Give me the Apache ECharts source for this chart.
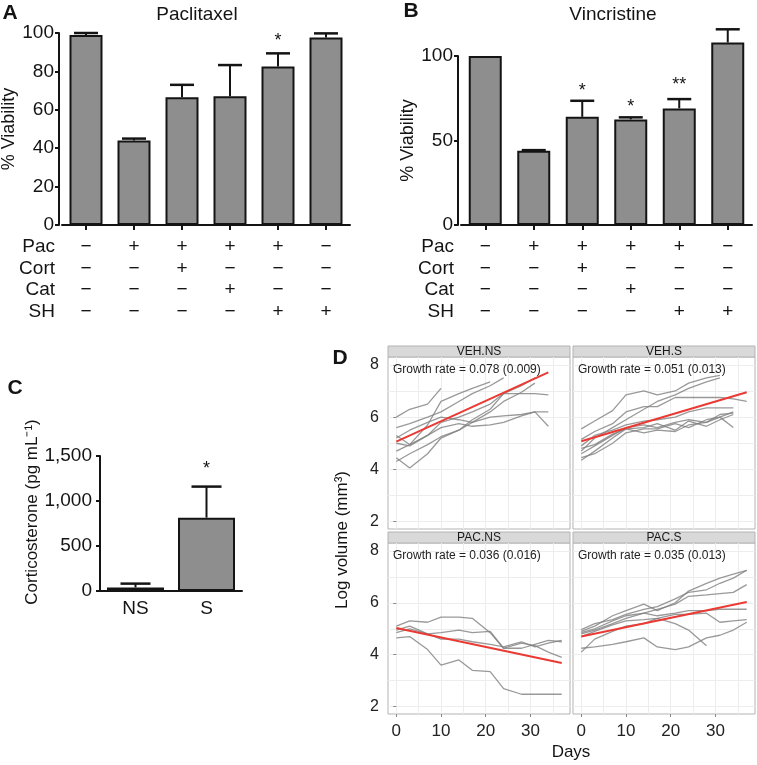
<!DOCTYPE html>
<html><head><meta charset="utf-8">
<script src="https://cdn.jsdelivr.net/npm/echarts@6/dist/echarts.min.js"></script>
<style>html,body{margin:0;padding:0;background:#fff}#c{width:757px;height:765px}</style>
</head><body><div id="c"></div>
<script>
// ---------- Panels A / B ----------
const groups = ['g1', 'g2', 'g3', 'g4', 'g5', 'g6'];
const rowNames = ['Pac', 'Cort', 'Cat', 'SH'];
const rowPac  = ['−', '+', '+', '+', '+', '−'];
const rowCort = ['−', '−', '+', '−', '−', '−'];
const rowCat  = ['−', '−', '−', '+', '−', '−'];
const rowSH   = ['−', '−', '−', '−', '+', '+'];
const rowSigns = [rowPac, rowCort, rowCat, rowSH];

const paclitaxelMean  = [99, 44, 66.5, 67, 82.5, 97.7];
const paclitaxelUpper = [100, 45, 73, 83.3, 89.4, 99.8];
const paclitaxelStars = ['', '', '', '', '*', ''];

const vincristineMean  = [100, 44, 64, 62.5, 69, 108];
const vincristineUpper = [100, 44.3, 73.5, 63.7, 74.5, 115.8];
const vincristineStars = ['', '', '*', '*', '**', ''];

// ---------- Panel C ----------
const cortGroups = ['NS', 'S'];
const cortMean  = [40, 815];
const cortUpper = [82, 1160];
const cortStars = ['', '*'];

// ---------- Panel D ----------
const facetNames = ['VEH.NS', 'VEH.S', 'PAC.NS', 'PAC.S'];
const growthRate = ['0.078', '0.051', '0.036', '0.035'];
const growthSE   = ['0.009', '0.013', '0.016', '0.013'];
const dayTicks = [0, 10, 20, 30];
const dayGrid = [0, 5, 10, 15, 20, 25, 30, 35];
const logTicks = [2, 4, 6, 8];
const logGrid = [2, 3, 4, 5, 6, 7, 8];

const vehNsLines = [
  [[0,6.0],[3,6.3],[7,6.5],[10,7.1]],
  [[0,5.3],[3,4.95],[7,5.7],[10,6.6],[14,6.9],[17,7.1],[21,7.35]],
  [[0,5.6],[3,5.75],[7,6.0],[10,6.2],[14,6.6],[17,6.9],[21,7.2],[24,7.5]],
  [[0,5.0],[3,4.9],[7,5.3],[10,5.8],[14,6.0],[17,6.2],[21,6.5],[24,6.9],[28,6.9],[31,6.9],[34,6.85]],
  [[0,5.2],[3,5.5],[7,5.8],[10,6.0],[14,5.9],[17,5.8],[21,6.0],[24,6.05],[28,6.1],[31,6.2],[34,6.2]],
  [[0,4.7],[3,4.95],[7,5.3],[10,5.6],[14,5.75],[17,5.65],[21,5.7],[24,5.8],[28,6.05],[31,6.2],[34,5.65]],
  [[0,4.45],[3,4.05],[7,4.6],[10,5.2],[14,5.5],[17,5.9],[21,6.3],[24,6.9],[28,7.2],[31,7.5]],
  [[0,4.3],[3,4.6],[7,4.95],[10,5.25],[14,5.5],[17,5.8],[21,6.2],[24,6.6],[28,6.95],[31,7.3]]
];
const vehSLines = [
  [[0,5.55],[3,5.85],[7,6.25],[10,6.85],[14,7.0],[17,6.85],[21,7.0],[24,7.3],[28,7.5],[31,7.6]],
  [[0,4.7],[3,5.2],[7,5.6],[10,5.9],[14,6.3],[17,6.6],[21,6.85],[24,7.1],[28,7.35],[31,7.5]],
  [[0,5.15],[3,5.45],[7,5.75],[10,6.2],[14,6.4],[17,6.4],[21,6.75],[24,6.75],[28,6.75],[31,6.75],[34,6.7],[37,6.6]],
  [[0,4.9],[3,5.3],[7,5.5],[10,5.7],[14,5.85],[17,5.9],[21,6.0],[24,6.2],[28,6.35],[31,6.35],[34,6.35]],
  [[0,4.6],[3,4.9],[7,5.3],[10,5.6],[14,5.7],[17,5.6],[21,5.8],[24,5.9],[28,5.8],[31,6.0],[34,6.2]],
  [[0,4.35],[3,4.7],[7,5.2],[10,5.55],[14,5.6],[17,5.75],[21,5.5],[24,5.85],[28,5.65],[31,5.9],[34,6.1]],
  [[0,4.45],[3,4.6],[7,5.0],[10,5.4],[14,5.55],[17,5.55],[21,5.75],[24,5.6],[28,5.9],[31,6.0],[34,5.6]],
  [[0,4.8],[3,4.95],[7,5.35],[10,5.55],[14,5.4],[17,5.5],[21,5.45],[24,5.7],[28,5.8],[31,6.1],[34,6.15]]
];
const pacNsLines = [
  [[0,5.1],[3,5.3],[7,5.25],[10,5.45],[14,5.45],[17,5.4],[21,4.85],[24,4.25],[28,4.45],[31,4.35],[34,4.1],[37,3.9]],
  [[0,4.95],[3,5.1],[7,4.8],[10,4.85],[14,4.95],[17,4.85],[21,4.9],[24,4.25],[28,4.25],[31,4.4],[34,4.55],[37,4.5]],
  [[0,4.85],[3,5.0],[7,4.8],[10,4.6],[14,4.6],[17,4.5],[21,4.4],[24,4.3],[28,4.5],[31,4.3],[34,4.45],[37,4.55]],
  [[0,4.65],[3,4.7],[7,4.2],[10,3.6],[14,3.8],[17,3.4],[21,3.35],[24,2.7],[28,2.48],[31,2.48],[34,2.48],[37,2.48]]
];
const pacSLines = [
  [[0,4.9],[3,5.1],[7,5.5],[10,5.7],[14,5.95],[17,5.7],[21,6.0],[24,6.45],[28,6.75],[31,6.95],[34,7.1],[37,7.25]],
  [[0,4.97],[3,5.2],[7,5.35],[10,5.55],[14,5.75],[17,5.85],[21,6.15],[24,6.4],[28,6.5],[31,6.75],[34,6.95],[37,7.25]],
  [[0,4.85],[3,5.0],[7,5.3],[10,5.5],[14,5.6],[17,5.75],[21,5.95],[24,6.25],[28,6.3],[31,6.35],[34,6.4],[37,6.7]],
  [[0,4.8],[3,4.95],[7,5.2],[10,5.4],[14,5.6],[17,5.5],[21,5.6],[24,5.7],[28,5.7],[31,5.75],[34,5.75],[37,5.75]],
  [[0,4.7],[3,4.9],[7,5.15],[10,5.3],[14,5.35],[17,5.4],[21,5.55],[24,5.55],[28,5.6],[31,5.25],[34,5.3],[37,5.35]],
  [[0,4.1],[3,4.6],[7,4.9],[10,5.1],[14,5.2],[17,5.4],[21,5.2],[24,4.95],[28,4.35]],
  [[0,4.25],[3,4.3],[7,4.4],[10,4.5],[14,4.65],[17,4.3],[21,4.2],[24,4.3],[28,4.65],[31,4.75],[34,4.95],[37,5.25]]
];
const fitVehNs = [[0, 5.06], [34, 7.71]];
const fitVehS  = [[0, 5.08], [37, 6.95]];
const fitPacNs = [[0, 5.03], [37, 3.68]];
const fitPacS  = [[0, 4.70], [37, 6.03]];

// ---------- styling / layout ----------
const FONT = "'Liberation Sans', Arial, Helvetica, sans-serif";
const INK = '#141414';
const BAR_FILL = '#8e8e8e';
const rowOffsets = [21.7, 43.3, 65, 86.7];
const dayRange = [-1.85, 38.85];
const logRange = [1.72, 8.3];

const dGrids = [
  {left: 388, top: 357, width: 182, height: 172},
  {left: 573, top: 357, width: 182, height: 172},
  {left: 388, top: 543, width: 182, height: 171},
  {left: 573, top: 543, width: 182, height: 171}
];

const grids = [
  {left: 62, top: 33, width: 288, height: 192},
  {left: 461, top: 56, width: 291, height: 169},
  {left: 100, top: 456, width: 142, height: 135}
].concat(dGrids.map(g => Object.assign({show: true, borderColor: '#b3b3b3', borderWidth: 1, backgroundColor: 'transparent'}, g)))
 .map(g => Object.assign({outerBoundsMode: 'none', containLabel: false}, g));

function rowAxes(gridIndex) {
  return rowNames.map((name, r) => ({
    type: 'category', gridIndex, data: rowSigns[r], position: 'bottom', offset: rowOffsets[r],
    axisLine: {show: false, onZero: false}, axisTick: {show: false},
    axisLabel: {interval: 0, margin: 0, verticalAlign: 'middle', fontSize: 19, color: INK},
    name, nameLocation: 'start', nameGap: 7, nameTextStyle: {fontSize: 19, color: INK}
  }));
}
function mainCatAxis(gridIndex) {
  return {
    type: 'category', gridIndex, data: groups,
    axisLine: {show: true, lineStyle: {color: INK, width: 2}},
    axisTick: {show: true, alignWithLabel: true, length: 5, lineStyle: {color: INK, width: 2}},
    axisLabel: {show: false}
  };
}
function barValueAxis(gridIndex, max, interval, name, nameGap) {
  return {
    type: 'value', gridIndex, min: 0, max, interval, offset: 3,
    axisLine: {show: true, lineStyle: {color: INK, width: 2}},
    axisTick: {show: true, length: 4, lineStyle: {color: INK, width: 2}},
    axisLabel: {fontSize: 19, color: INK, margin: 5},
    splitLine: {show: false},
    name, nameLocation: 'middle', nameGap, nameTextStyle: {fontSize: 18, color: INK}
  };
}
function dAxisX(gridIndex, showLabels) {
  return [{
    type: 'value', gridIndex, min: dayRange[0], max: dayRange[1],
    axisLine: {show: false},
    axisTick: {show: showLabels, customValues: dayTicks, length: 3, lineStyle: {color: '#888'}},
    axisLabel: {show: showLabels, customValues: dayTicks, fontSize: 17, color: '#222', margin: 9},
    splitLine: {show: false}
  }, {
    type: 'value', gridIndex, min: dayRange[0], max: dayRange[1],
    axisLine: {show: false},
    axisTick: {show: false, customValues: dayGrid},
    axisLabel: {show: false},
    splitLine: {show: true, lineStyle: {color: '#ededed', width: 1}}
  }];
}
function dAxisY(gridIndex, showLabels) {
  return [{
    type: 'value', gridIndex, min: logRange[0], max: logRange[1],
    axisLine: {show: false},
    axisTick: {show: showLabels, customValues: logTicks, length: 3, lineStyle: {color: '#888'}},
    axisLabel: {show: showLabels, customValues: logTicks, fontSize: 16, color: '#222', margin: 9},
    splitLine: {show: false}
  }, {
    type: 'value', gridIndex, min: logRange[0], max: logRange[1],
    axisLine: {show: false},
    axisTick: {show: false, customValues: logGrid},
    axisLabel: {show: false},
    splitLine: {show: true, lineStyle: {color: '#ededed', width: 1}}
  }];
}

// x axes: 0 A main, 1-4 A rows, 5 B main, 6-9 B rows, 10 C, 11.. D (main, helper) x4
const xAxes = [mainCatAxis(0)].concat(rowAxes(0), [mainCatAxis(1)], rowAxes(1), [{
  type: 'category', gridIndex: 2, data: cortGroups,
  axisLine: {show: true, lineStyle: {color: INK, width: 2}},
  axisTick: {show: false},
  axisLabel: {fontSize: 19, color: INK, margin: 8}
}], dAxisX(3, false), dAxisX(4, false), dAxisX(5, true), dAxisX(6, true));

// y axes: 0 A, 1 B, 2 C, 3.. D (main, helper) x4
const cAxis = barValueAxis(2, 1500, 500, '', 0);
cAxis.axisLabel = {fontSize: 19, color: INK, margin: 8, formatter: v => v.toLocaleString('en-US')};
cAxis.offset = 0;
const yAxes = [
  barValueAxis(0, 100, 20, '% Viability', 35),
  barValueAxis(1, 100, 50, '% Viability', 31),
  cAxis
].concat(dAxisY(3, true), dAxisY(4, false), dAxisY(5, true), dAxisY(6, false));

function barSeries(xi, yi, data, width) {
  return {
    type: 'bar', xAxisIndex: xi, yAxisIndex: yi, data, barWidth: width, clip: false, silent: true,
    itemStyle: {color: BAR_FILL, borderColor: INK, borderWidth: 2}, z: 2
  };
}
function errorSeries(xi, yi, mean, upper, stars, cap, gap) {
  return {
    type: 'custom', xAxisIndex: xi, yAxisIndex: yi, clip: false, silent: true, z: 4,
    data: mean.map((m, i) => [i, m, upper[i]]),
    renderItem: (params, api) => {
      const i = api.value(0);
      const base = api.coord([i, api.value(1)]);
      const top = api.coord([i, api.value(2)]);
      const children = [];
      if (api.value(2) > api.value(1)) {
        children.push({type: 'line', shape: {x1: base[0], y1: base[1], x2: top[0], y2: top[1]}, style: {stroke: INK, lineWidth: 2}});
        children.push({type: 'line', shape: {x1: top[0] - cap, y1: top[1], x2: top[0] + cap, y2: top[1]}, style: {stroke: INK, lineWidth: 2.5}});
      }
      const s = stars[params.dataIndex];
      if (s) {
        const g = s.length > 1 ? gap + 4 : gap;
        children.push({type: 'text', x: top[0], y: top[1] - g,
          style: {text: s, align: 'center', verticalAlign: 'middle', fontSize: 18, fontFamily: FONT, fill: INK}});
      }
      return {type: 'group', children};
    }
  };
}
function lineSeries(xi, yi, data, color, width, z) {
  return {type: 'line', xAxisIndex: xi, yAxisIndex: yi, data, showSymbol: false, silent: true, z,
    lineStyle: {color, width}, emphasis: {disabled: true}};
}

const facetLines = [vehNsLines, vehSLines, pacNsLines, pacSLines];
const facetFits = [fitVehNs, fitVehS, fitPacNs, fitPacS];
const dSeries = [];
facetLines.forEach((lines, k) => {
  const xi = 11 + 2 * k, yi = 3 + 2 * k;
  lines.forEach(l => dSeries.push(lineSeries(xi, yi, l, 'rgba(128,128,128,0.8)', 1.3, 3)));
  dSeries.push(lineSeries(xi, yi, facetFits[k], '#ea3a33', 2, 5));
});

const graphic = [];
function txt(text, x, y, size, opts) {
  graphic.push(Object.assign({type: 'text', x, y, silent: true, z: 10,
    style: Object.assign({text, fontSize: size, fontFamily: FONT, fill: INK, align: 'center', verticalAlign: 'middle'}, opts || {})},
    opts && opts.rotation !== undefined ? {rotation: opts.rotation} : {}));
}
txt('A', 10, 13, 21, {fontWeight: 'bold'});
txt('B', 411, 11, 21, {fontWeight: 'bold'});
txt('C', 15, 388, 21, {fontWeight: 'bold'});
txt('D', 340, 358, 21, {fontWeight: 'bold'});
txt('Paclitaxel', 197, 15, 19);
txt('Vincristine', 613, 15, 19);
txt('Corticosterone (pg mL⁻¹)', 32, 512, 17, {rotation: Math.PI / 2});
txt('Log volume (mm³)', 342, 540, 17, {rotation: Math.PI / 2});
txt('Days', 571, 752, 17);
dGrids.forEach((g, k) => {
  graphic.push({type: 'rect', silent: true, shape: {x: g.left, y: g.top - 11, width: g.width, height: 11},
    style: {fill: '#d9d9d9', stroke: '#b3b3b3', lineWidth: 1}});
  txt(facetNames[k], g.left + g.width / 2, g.top - 5.5, 12, {fill: '#1a1a1a'});
  txt('Growth rate = ' + growthRate[k] + ' (' + growthSE[k] + ')', g.left + 5, g.top + 13, 12, {align: 'left', fill: '#222'});
});

const option = {
  animation: false,
  backgroundColor: '#ffffff',
  textStyle: {fontFamily: FONT},
  grid: grids,
  xAxis: xAxes,
  yAxis: yAxes,
  graphic,
  series: [
    barSeries(0, 0, paclitaxelMean, 33),
    errorSeries(0, 0, paclitaxelMean, paclitaxelUpper, paclitaxelStars, 12, 12),
    barSeries(5, 1, vincristineMean, 33),
    errorSeries(5, 1, vincristineMean, vincristineUpper, vincristineStars, 12, 10),
    barSeries(10, 2, cortMean, 57),
    errorSeries(10, 2, cortMean, cortUpper, cortStars, 15, 18)
  ].concat(dSeries)
};
const chart = echarts.init(document.getElementById('c'), null, {renderer: 'canvas'});
chart.setOption(option);
</script>
</body></html>
